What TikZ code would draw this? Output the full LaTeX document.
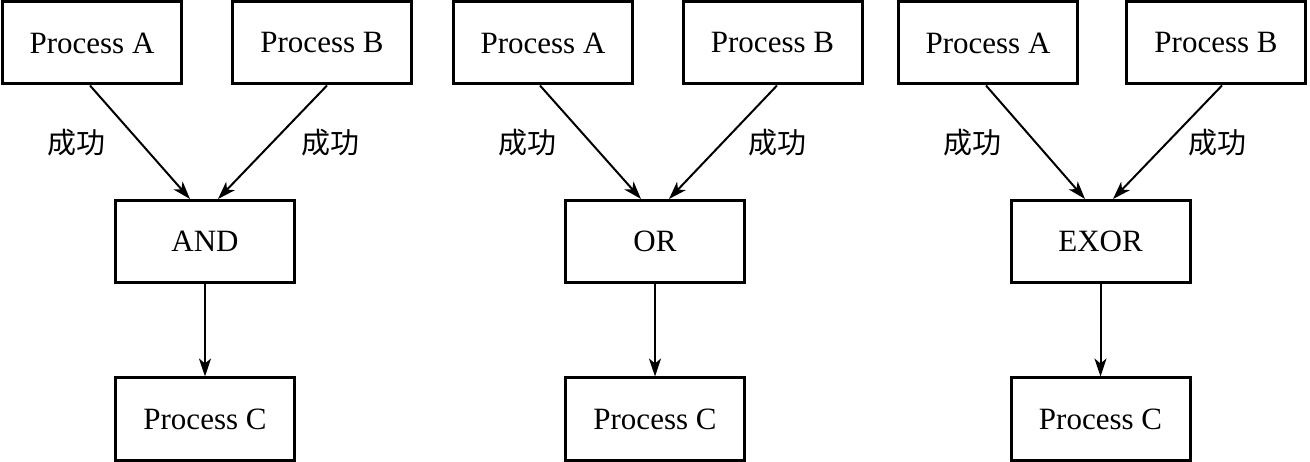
\documentclass[tikz,border=0pt]{standalone}
\usepackage{fontspec}
\setmainfont{Liberation Serif}
\newfontfamily\cjk{Noto Sans CJK SC}
\usetikzlibrary{arrows.meta}
\begin{document}
\begin{tikzpicture}[x=1pt,y=-1pt,
  box/.style={draw, line width=3pt, minimum width=179pt, minimum height=82pt, inner sep=0pt, font=\fontsize{31}{31}\selectfont},
  conn/.style={line width=2pt, -{Stealth[length=18pt,width=12pt,inset=5pt]}},
  lbl/.style={font=\cjk\fontsize{29}{29}\selectfont, inner sep=0pt}]
\useasboundingbox (0,0) rectangle (1310,462);
% group 1
\node[box] (a1) at (92,43) {Process A};
\node[box] (b1) at (322,43) {Process B};
\node[box] (g1) at (205,241.5) {AND};
\node[box] (c1) at (205,419) {Process C};
\draw[conn] ([xshift=-2pt]a1.south) -- ([xshift=-15pt]g1.north);
\draw[conn] ([xshift=5pt]b1.south) -- ([xshift=13pt]g1.north);
\draw[conn] (g1.south) -- (c1.north);
\node[lbl] (l1a) at (76,143) {成功};
\node[lbl] (l1b) at (330,143) {成功};
% group 2
\node[box] (a2) at (543,43) {Process A};
\node[box] (b2) at (772.5,43) {Process B};
\node[box] (g2) at (655,241.5) {OR};
\node[box] (c2) at (655,419) {Process C};
\draw[conn] ([xshift=-3pt]a2.south) -- ([xshift=-14pt]g2.north);
\draw[conn] ([xshift=4.5pt]b2.south) -- ([xshift=14pt]g2.north);
\draw[conn] (g2.south) -- (c2.north);
\node[lbl] (l2a) at (527,143) {成功};
\node[lbl] (l2b) at (777,143) {成功};
% group 3
\node[box] (a3) at (988,43) {Process A};
\node[box] (b3) at (1216,43) {Process B};
\node[box] (g3) at (1100.5,241.5) {EXOR};
\node[box] (c3) at (1100.5,419) {Process C};
\draw[conn] ([xshift=-2pt]a3.south) -- ([xshift=-15.5pt]g3.north);
\draw[conn] ([xshift=6pt]b3.south) -- ([xshift=12.5pt]g3.north);
\draw[conn] (g3.south) -- (c3.north);
\node[lbl] (l3a) at (972,143) {成功};
\node[lbl] (l3b) at (1217,143) {成功};
\end{tikzpicture}
\end{document}
